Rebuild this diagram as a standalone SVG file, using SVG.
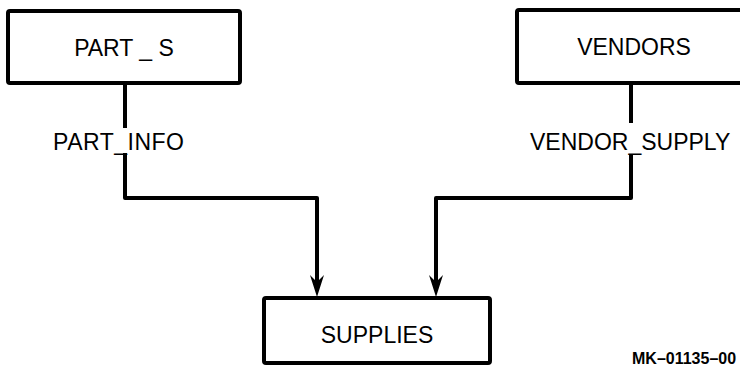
<svg xmlns="http://www.w3.org/2000/svg" width="740" height="367" viewBox="0 0 740 367">
  <style>
    .box { fill: #ffffff; stroke: #000000; stroke-width: 4; }
    .label { font-family: "Liberation Sans", Arial, sans-serif; font-size: 23px; fill: #000000; }
    .wire { fill: none; stroke: #000000; stroke-width: 4; stroke-linejoin: round; }
    .tag { font-family: "Liberation Sans", Arial, sans-serif; font-size: 16px; font-weight: bold; fill: #000000; }
  </style>
  <defs>
    <!-- barbed arrowhead; the notch sits on the line end, the tip 15px further on -->
    <marker id="arrow" markerUnits="userSpaceOnUse" markerWidth="30" markerHeight="30" refX="0" refY="0" orient="auto" overflow="visible">
      <path d="M15,0 L-7,-7 L0,0 L-7,7 Z" fill="#000000"/>
    </marker>
  </defs>
  <rect width="740" height="367" fill="#ffffff"/>

  <g id="part_s">
    <rect class="box" x="8" y="11" width="232" height="72" rx="2"/>
    <text class="label" x="124" y="56" text-anchor="middle" xml:space="preserve">PART _ S</text>
  </g>

  <g id="vendors">
    <rect class="box" x="517" y="10" width="240" height="73" rx="2"/>
    <text class="label" x="634" y="55" text-anchor="middle">VENDORS</text>
  </g>

  <g id="supplies">
    <rect class="box" x="264" y="298" width="226" height="65" rx="2"/>
    <text class="label" x="377" y="343" text-anchor="middle">SUPPLIES</text>
  </g>

  <g id="connectors">
    <path class="wire" d="M125,83 V128"/>
    <path class="wire" d="M125,153 V198 H317 V282" marker-end="url(#arrow)"/>
    <text class="label" x="53" y="150" letter-spacing="0.5">PART_INFO</text>

    <path class="wire" d="M631,83 V123"/>
    <path class="wire" d="M631,155 V198 H436 V282" marker-end="url(#arrow)"/>
    <text class="label" x="530" y="150">VENDOR_SUPPLY</text>
  </g>

  <text class="tag" x="632" y="364">MK–01135–00</text>
</svg>
